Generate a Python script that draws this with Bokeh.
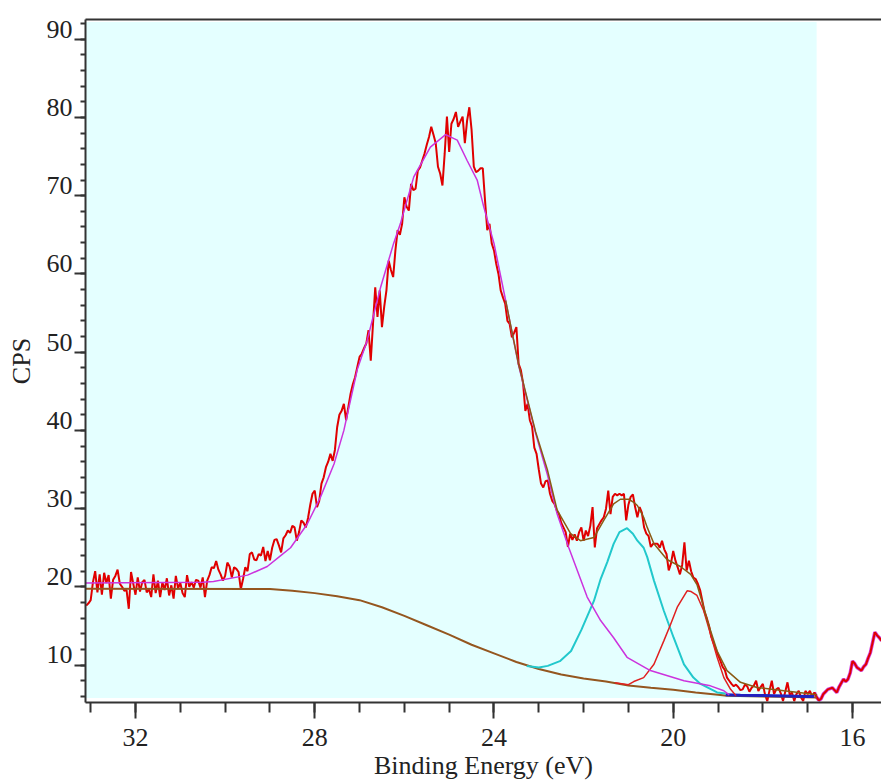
from bokeh.plotting import figure
from bokeh.models import Range1d, LinearAxis, FixedTicker, BoxAnnotation, SingleIntervalTicker
from bokeh.embed import file_html
from bokeh.resources import INLINE

# ---- raw spectrum (CPS), binding energy grid 33.10 eV downward in 0.05 eV steps ----
be_start = 33.10
be_step = 0.05
cps = [
    17.6, 17.9, 18.3, 20.6, 22.0, 19.3, 21.6, 19.0, 21.8, 20.5,
    21.5, 18.5, 20.9, 21.4, 22.2, 20.4, 20.0, 19.5, 19.6, 17.2,
    21.9, 20.4, 19.0, 21.2, 19.4, 20.6, 20.9, 19.3, 19.7, 18.7,
    21.6, 19.2, 20.8, 18.7, 20.6, 19.6, 21.1, 18.9, 20.2, 18.5,
    21.4, 19.8, 20.5, 19.2, 18.7, 21.5, 20.0, 20.6, 19.9, 20.9,
    20.8, 19.9, 21.2, 18.7, 20.8, 21.5, 22.5, 22.4, 23.3, 22.2,
    21.6, 20.8, 21.4, 23.1, 22.6, 21.2, 22.5, 22.3, 21.9, 19.7,
    21.0, 22.5, 22.0, 24.2, 24.4, 23.5, 23.4, 24.2, 24.0, 25.1,
    23.3, 24.6, 23.4, 25.0, 26.0, 26.1, 25.3, 24.4, 26.2, 26.6,
    27.2, 26.9, 27.8, 27.6, 25.9, 27.0, 28.5, 28.2, 27.6, 28.8,
    30.5, 31.9, 32.3, 30.2, 31.0, 33.2, 34.0, 35.3, 36.0, 37.0,
    36.1, 37.5, 40.4, 42.0, 42.5, 43.4, 41.3, 43.0, 44.7, 45.9,
    46.8, 48.1, 49.4, 49.8, 50.5, 51.1, 52.8, 48.9, 53.6, 58.3,
    54.5, 57.9, 53.2, 55.8, 57.9, 61.7, 60.5, 59.6, 63.0, 65.6,
    65.0, 66.4, 69.8, 68.6, 68.1, 71.5, 70.7, 70.9, 73.2, 73.6,
    74.5, 75.4, 76.5, 77.5, 78.8, 77.8, 76.7, 73.7, 72.8, 71.3,
    75.4, 80.1, 75.6, 79.2, 79.8, 80.7, 78.8, 79.5, 80.1, 76.7,
    79.6, 81.3, 78.4, 73.7, 73.0, 73.2, 73.5, 73.5, 69.4, 65.6,
    66.4, 63.9, 63.0, 61.3, 60.0, 57.9, 57.0, 56.2, 54.0, 53.6,
    51.9, 52.5, 53.2, 48.5, 47.7, 46.0, 42.5, 43.4, 41.3, 40.5,
    37.8, 37.0, 35.0, 33.2, 32.7, 33.5, 33.6, 31.9, 31.0, 30.6,
    29.8, 29.3, 28.2, 27.6, 27.0, 25.1, 26.8, 26.0, 26.7, 25.9,
    27.0, 27.6, 25.9, 27.2, 26.5, 27.8, 30.2, 25.05, 27.5, 28.0,
    28.5, 28.9, 30.0, 32.3, 29.3, 31.5, 31.9, 31.7, 31.9, 31.7,
    31.9, 28.5, 30.5, 31.5, 31.8, 30.2, 28.9, 30.2, 29.5, 27.6,
    26.8, 26.5, 25.1, 25.5, 25.5, 25.5, 25.0, 25.9, 24.8, 24.2,
    22.1, 23.0, 24.6, 23.35, 22.5, 21.6, 22.8, 25.7, 22.1, 23.35,
    22.0, 21.2, 21.0, 20.4, 19.6, 18.2, 16.8, 16.0, 15.0, 13.6,
    12.8, 12.1, 11.3, 10.6, 9.8, 9.4, 8.4, 8.0, 7.6, 7.3,
    7.5, 7.2, 6.8, 6.9, 7.5, 7.3, 6.6, 7.1, 7.4, 8.0,
    6.7, 7.2, 7.6, 6.2, 5.4, 6.8, 8.0, 6.3, 6.9, 7.1,
    6.4, 5.4, 6.6, 7.8, 6.2, 6.5, 5.4, 6.3, 6.7, 5.9,
    5.4, 6.7, 6.3, 6.7, 6.0, 6.5, 5.9, 5.5, 5.7, 6.3,
    6.6, 6.9, 7.0, 7.1, 6.8, 6.5, 7.2, 7.7, 8.2, 7.9,
    8.2, 9.0, 10.5, 10.2, 9.7, 9.5, 9.3, 9.8, 10.1, 10.9,
    11.6, 12.9, 14.2, 13.8, 13.5, 13.1,
]
be = [round(be_start - be_step * i, 2) for i in range(len(cps))]
fit_limit = 16.80  # end of fitted region (shaded)

# ---- Shirley-type background ----
bg_x = [33.12, 29.0, 28.5, 28.0, 27.5, 27.0, 26.5, 26.0, 25.5, 25.0, 24.5, 24.0,
        23.5, 23.0, 22.5, 22.0, 21.5, 21.0, 20.5, 20.0, 19.5, 19.0, 18.8, 17.5, 16.8]
bg_y = [19.75, 19.72, 19.5, 19.2, 18.8, 18.3, 17.4, 16.3, 15.1, 13.9, 12.6, 11.5,
        10.4, 9.5, 8.8, 8.3, 7.9, 7.4, 7.1, 6.85, 6.5, 6.2, 6.07, 5.95, 5.86]

# ---- main component (magenta) ----
p1_x = [33.12, 30.5, 30.26, 29.5, 29.06, 28.76, 28.54, 28.17, 27.87, 27.57, 27.35,
        27.05, 26.83, 26.53, 26.24, 26.09, 25.79, 25.42, 25.08, 24.82, 24.6, 24.375,
        24.23, 24.0, 23.74, 23.45, 23.07, 22.81, 22.59, 22.33, 21.92, 21.62, 21.33,
        21.03, 20.51, 19.76, 19.17, 18.87, 18.75]
p1_y = [20.5, 20.6, 20.7, 21.5, 22.6, 24.0, 25.0, 28.0, 31.5, 35.7, 40.0,
        47.8, 51.5, 58.3, 63.9, 66.4, 72.4, 76.2, 77.8, 77.1, 74.5, 72.0,
        68.6, 63.9, 56.6, 48.3, 39.6, 34.4, 29.3, 25.0, 18.7, 15.7, 13.5,
        11.0, 9.3, 8.0, 7.35, 6.72, 6.2]

# ---- second component (cyan) ----
p2_x = [23.27, 23.0, 22.8, 22.53, 22.28, 22.05, 21.77, 21.62, 21.47, 21.33, 21.2,
        21.03, 20.9, 20.8, 20.66, 20.58, 20.43, 20.21, 19.99, 19.76, 19.55, 19.39,
        19.02, 18.83]
p2_y = [9.9, 9.7, 9.9, 10.5, 11.8, 14.5, 18.2, 21.0, 23.2, 25.5, 27.0,
        27.5, 26.8, 25.9, 25.0, 23.8, 20.8, 16.95, 13.5, 10.1, 8.4, 7.6,
        6.5, 6.37]

# ---- third component (red) ----
p3_x = [21.3, 21.0, 20.88, 20.66, 20.43, 20.21, 20.06, 19.91, 19.69, 19.6, 19.47,
        19.32, 19.17, 19.02, 18.87, 18.72, 18.6]
p3_y = [7.75, 7.5, 7.9, 8.4, 10.1, 13.1, 15.2, 17.4, 19.5, 19.4, 18.9,
        16.95, 14.0, 11.0, 8.4, 6.9, 6.1]

# ---- fourth (small) component (blue) ----
p4_x = [18.83, 18.5, 18.0, 17.5, 17.0, 16.86]
p4_y = [6.2, 6.15, 6.1, 6.05, 6.0, 6.0]

# ---- fit envelope ----
env_x = [23.74, 23.45, 23.07, 22.81, 22.59, 22.29, 22.07, 21.77, 21.55, 21.33,
         21.18, 20.99, 20.88, 20.8, 20.66, 20.58, 20.43, 20.14, 19.84, 19.61,
         19.47, 19.35, 19.24, 19.02, 18.8, 18.5, 18.13, 17.53, 17.01, 16.79]
env_y = [56.6, 48.4, 39.8, 35.0, 29.8, 26.8, 25.9, 26.3, 28.5, 30.6,
         31.2, 31.2, 30.8, 30.4, 28.9, 27.6, 25.5, 23.5, 22.6, 21.6,
         20.3, 18.0, 15.7, 11.8, 9.3, 7.8, 7.14, 6.72, 6.37, 6.2]

x_ticks_major = 4
y_ticks_major = 10
y_tick_values = [10, 20, 30, 40, 50, 60, 70, 80, 90]

FONT = "Liberation Serif"
AX = "#333333"

p = figure(width=881, height=782, output_backend="svg", toolbar_location=None,
           x_range=Range1d(33.116, 15.352), y_range=Range1d(5.22, 92.52),
           min_border_left=85, min_border_right=0, min_border_top=19,
           min_border_bottom=80,
           background_fill_color="white", border_fill_color="white")
p.outline_line_color = None
p.xgrid.visible = False
p.ygrid.visible = False

p.xaxis.ticker = SingleIntervalTicker(interval=x_ticks_major, num_minor_ticks=4)
p.yaxis.ticker = SingleIntervalTicker(interval=y_ticks_major, num_minor_ticks=5)
p.xaxis.axis_label = "Binding Energy (eV)"
p.yaxis.axis_label = "CPS"

for ax in (p.xaxis, p.yaxis):
    ax.axis_line_color = AX
    ax.axis_line_width = 2
    ax.major_tick_line_color = AX
    ax.minor_tick_line_color = AX
    ax.major_tick_line_width = 2
    ax.minor_tick_line_width = 2
    ax.major_tick_in = 0
    ax.minor_tick_in = 0
    ax.major_label_text_font = FONT
    ax.major_label_text_font_size = "26px"
    ax.major_label_text_color = "#222222"
    ax.axis_label_text_font = FONT
    ax.axis_label_text_font_size = "26px"
    ax.axis_label_text_font_style = "normal"
    ax.axis_label_text_color = "#222222"

p.xaxis.major_tick_out = 16
p.xaxis.minor_tick_out = 10
p.xaxis.major_label_standoff = 10
p.xaxis.axis_label_standoff = 2
p.yaxis.major_tick_out = 11
p.yaxis.minor_tick_out = 5
p.yaxis.major_label_standoff = 2
p.yaxis.axis_label_standoff = 8
# the original software prints the y labels just above their tick marks
p.yaxis.major_label_overrides = {v: f"{v}\n" for v in y_tick_values}
p.yaxis.major_label_text_line_height = 0.7

top = LinearAxis(ticker=FixedTicker(ticks=[]), axis_line_color=AX, axis_line_width=2,
                 major_tick_in=0, major_tick_out=0, minor_tick_in=0, minor_tick_out=0)
p.add_layout(top, "above")

p.add_layout(BoxAnnotation(left=fit_limit, right=33.116, bottom=5.81, top=92.2,
                           fill_color="#e4ffff", fill_alpha=1.0, line_color=None,
                           level="underlay"))

# raw data: outside the fitted region it is drawn with a magenta halo
out_x = [x for x in be if x <= fit_limit + 0.05]
out_y = [y for x, y in zip(be, cps) if x <= fit_limit + 0.05]
p.line(out_x, out_y, line_color="#d040e0", line_width=3.5)
p.line(be, cps, line_color="#e00000", line_width=2)

p.line(bg_x, bg_y, line_color="#94561f", line_width=2)
p.line(p4_x, p4_y, line_color="#2020c0", line_width=3)
p.line(p2_x, p2_y, line_color="#22c8cc", line_width=2)
p.line(p3_x, p3_y, line_color="#e02020", line_width=1.5)
p.line(p1_x, p1_y, line_color="#cc33dd", line_width=1.5)
p.line(env_x, env_y, line_color="#8b5a14", line_width=1.5)

open("out.html", "w").write(file_html(p, INLINE))
